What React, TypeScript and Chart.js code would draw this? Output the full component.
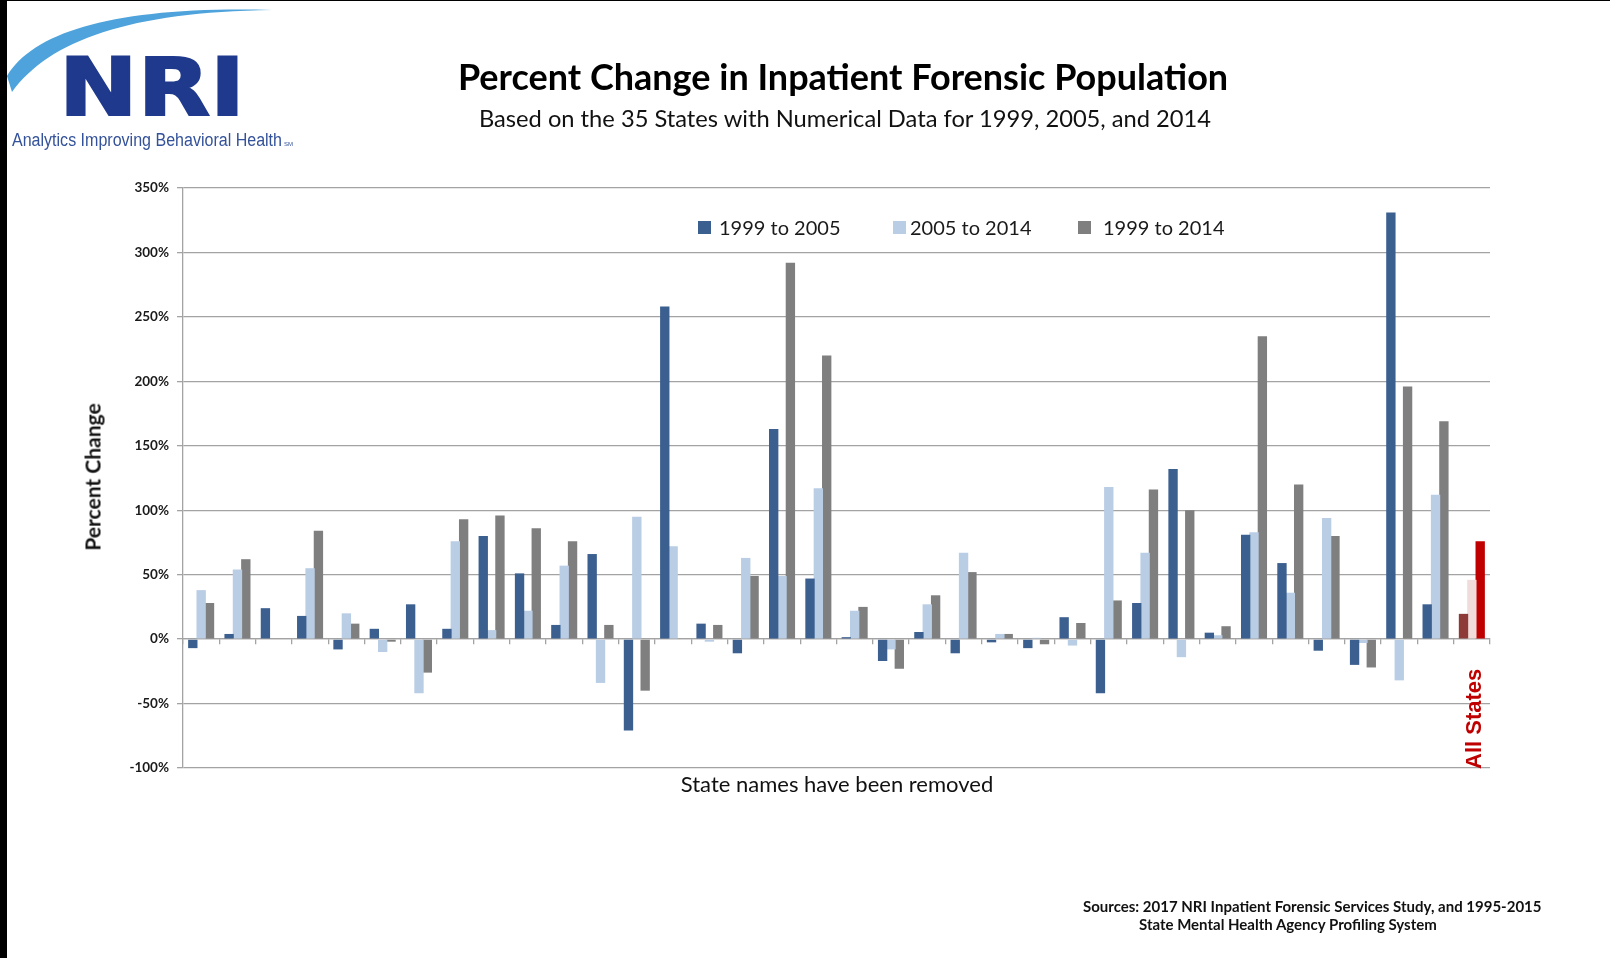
import React, { useEffect, useRef } from "react";
import { Chart, registerables } from "chart.js";

Chart.register(...registerables);

// ---- data ----
const STATE_LABELS: string[] = Array(35).fill("");
const CATEGORIES: string[] = [...STATE_LABELS, "All States"];
const SERIES_NAMES = ["1999 to 2005", "2005 to 2014", "1999 to 2014"];

const CHANGE_1999_2005 = [
  -7, 4, 24, 18, -8, 8, 27, 8, 80, 51, 11, 66, -71, 258, 12, -11, 163, 47,
  1.5, -17, 5.5, -11, -2.5, -7, 17, -42, 28, 132, 5, 81, 59, -9, -20, 331, 27,
  19.6,
];
const CHANGE_2005_2014 = [
  38, 54, 0, 55, 20, -10, -42, 76, 7, 22, 57, -34, 95, 72, -2, 63, 49, 117,
  22, -8, 27, 67, 4, 1, -5, 118, 67, -14, 3, 83, 36, 94, -3, -32, 112, 46,
];
const CHANGE_1999_2014 = [
  28, 62, 0, 84, 12, -2, -26, 93, 96, 86, 76, 11, -40, 0, 11, 49, 292, 220,
  25, -23, 34, 52, 4, -4, 12.5, 30, 116, 100, 10, 235, 120, 80, -22, 196, 169,
  76,
];
const Y_TICKS = [-100, -50, 0, 50, 100, 150, 200, 250, 300, 350];

const TITLE = "Percent Change in Inpatient Forensic Population";
const SUBTITLE =
  "Based on the 35 States with Numerical Data for 1999, 2005, and 2014";
const X_TITLE = "State names have been removed";
const Y_TITLE = "Percent Change";
const SOURCE_LINES = [
  "Sources: 2017 NRI Inpatient Forensic Services Study, and 1995-2015",
  "State Mental Health Agency Profiling System",
];

// ---- style ----
const STATE_COLORS = ["#3b5f8f", "#b9cde5", "#7f7f7f"];
const ALL_STATES_COLORS = ["#8e3a39", "#f2dcdb", "#c00000"];
const GRID = "#a3a3a3";

const W = 1610;
const H = 958;
const AREA = { left: 183, top: 188, right: 1490, bottom: 768 };

const allStatesLabel = {
  id: "allStatesLabel",
  afterDatasetsDraw(chart: any) {
    const { ctx } = chart;
    const xs = chart.scales.x;
    const ys = chart.scales.y;
    const idx = CATEGORIES.length - 1;
    const px = xs.getPixelForValue(idx) + 3;
    const py = ys.getPixelForValue(Y_TICKS[0]) + 1;
    ctx.save();
    ctx.translate(px, py);
    ctx.rotate(-Math.PI / 2);
    ctx.font = 'bold 22px "Liberation Sans", Arial, sans-serif';
    ctx.fillStyle = "#c00000";
    ctx.textAlign = "left";
    ctx.textBaseline = "middle";
    ctx.fillText(CATEGORIES[idx], 0, 0);
    ctx.restore();
  },
};

function colorsFor(k: number) {
  return CATEGORIES.map((_, i) =>
    i === CATEGORIES.length - 1 ? ALL_STATES_COLORS[k] : STATE_COLORS[k]
  );
}

export default function App() {
  const ref = useRef<HTMLCanvasElement | null>(null);

  useEffect(() => {
    document.body.style.margin = "0";
    if (!ref.current) return;
    const series = [CHANGE_1999_2005, CHANGE_2005_2014, CHANGE_1999_2014];
    const chart = new Chart(ref.current, {
      type: "bar",
      data: {
        labels: CATEGORIES,
        datasets: series.map((d, k) => ({
          label: SERIES_NAMES[k],
          data: d,
          backgroundColor: colorsFor(k),
          borderWidth: 0,
          categoryPercentage: 0.69,
          barPercentage: 1.12,
        })),
      },
      options: {
        animation: false,
        responsive: false,
        maintainAspectRatio: false,
        devicePixelRatio: 1,
        layout: {
          padding: {
            left: 0,
            top: AREA.top,
            right: W - AREA.right,
            bottom: H - AREA.bottom,
          },
        },
        plugins: {
          legend: { display: false },
          title: { display: false },
          tooltip: { enabled: false },
        },
        scales: {
          x: {
            type: "category",
            position: { y: 0 } as any,
            offset: true,
            afterFit: (s: any) => {
              s.height = 0;
            },
            ticks: { display: false },
            grid: {
              display: true,
              offset: true,
              drawOnChartArea: false,
              drawTicks: true,
              tickLength: 5,
              color: GRID,
              lineWidth: 1.3,
            },
            border: { display: true, color: GRID, width: 1.3 },
          },
          y: {
            min: Y_TICKS[0],
            max: Y_TICKS[Y_TICKS.length - 1],
            afterFit: (s: any) => {
              s.width = AREA.left;
            },
            afterBuildTicks: (s: any) => {
              s.ticks = Y_TICKS.map((v) => ({ value: v }));
            },
            ticks: {
              callback: (v: any) => v + "%",
              font: { family: "Lato", size: 13.5, weight: "bold" },
              color: "#1a1a1a",
              padding: 8,
            },
            grid: {
              color: GRID,
              lineWidth: 1.3,
              tickLength: 6,
              drawTicks: true,
            },
            border: { display: true, color: GRID, width: 1.3 },
          },
        },
      },
      plugins: [allStatesLabel],
    });
    return () => chart.destroy();
  }, []);

  const abs = (s: React.CSSProperties): React.CSSProperties => ({
    position: "absolute",
    whiteSpace: "nowrap",
    lineHeight: 1,
    ...s,
  });

  const legendItems = [
    { box: 698, text: 719 },
    { box: 893, text: 910 },
    { box: 1078, text: 1103 },
  ];

  return (
    <div
      style={{
        position: "absolute",
        left: 0,
        top: 0,
        width: W,
        height: H,
        background: "#fff",
        overflow: "hidden",
        fontFamily: "Lato, sans-serif",
      }}
    >
      <canvas
        ref={ref}
        width={W}
        height={H}
        style={{ position: "absolute", left: 0, top: 0, width: W, height: H }}
      />

      {/* logo */}
      <svg
        width={310}
        height={160}
        style={{ position: "absolute", left: 0, top: 0 }}
      >
        <path
          d="M7 76 C 35 30, 120 6, 272 10 C 130 12, 50 40, 12 92 Z"
          fill="#4ea3dc"
        />
        <text
          x={59}
          y={115}
          fontFamily="'DejaVu Sans', 'Liberation Sans', sans-serif"
          fontWeight="bold"
          fontSize={81}
          fill="#1f3a8c"
          stroke="#1f3a8c"
          strokeWidth={2}
          textLength={186}
          lengthAdjust="spacingAndGlyphs"
        >
          NRI
        </text>
        <text
          x={12}
          y={146}
          fontFamily="'Liberation Sans Narrow', 'Liberation Sans', sans-serif"
          fontSize={18}
          fill="#34529a"
          textLength={270}
          lengthAdjust="spacingAndGlyphs"
        >
          Analytics Improving Behavioral Health
        </text>
        <text
          x={284}
          y={146}
          fontFamily="'Liberation Sans', sans-serif"
          fontSize={6}
          fill="#34529a"
        >
          SM
        </text>
      </svg>

      {/* frame */}
      <div style={abs({ left: 0, top: 0, width: 7, height: H, background: "#000" })} />
      <div style={abs({ left: 0, top: 0, width: W, height: 1, background: "#000" })} />

      {/* titles */}
      <div
        style={abs({
          left: 843,
          top: 76,
          transform: "translate(-50%, -50%)",
          fontSize: 36,
          fontWeight: "bold",
          color: "#000",
        })}
      >
        {TITLE}
      </div>
      <div
        style={abs({
          left: 845,
          top: 119,
          transform: "translate(-50%, -50%)",
          fontSize: 23.7,
          color: "#111",
        })}
      >
        {SUBTITLE}
      </div>

      {/* legend */}
      {legendItems.map((it, k) => (
        <React.Fragment key={k}>
          <div
            style={abs({
              left: it.box,
              top: 221,
              width: 13,
              height: 13,
              background: STATE_COLORS[k],
            })}
          />
          <div
            style={abs({
              left: it.text,
              top: 227,
              transform: "translateY(-50%)",
              fontSize: 20,
              color: "#1a1a1a",
            })}
          >
            {SERIES_NAMES[k]}
          </div>
        </React.Fragment>
      ))}

      {/* axis titles */}
      <div
        style={abs({
          left: 92,
          top: 477,
          transform: "translate(-50%, -50%) rotate(-90deg)",
          fontSize: 21,
          fontWeight: "bold",
          color: "#111",
        })}
      >
        {Y_TITLE}
      </div>
      <div
        style={abs({
          left: 837,
          top: 784,
          transform: "translate(-50%, -50%)",
          fontSize: 22,
          color: "#111",
        })}
      >
        {X_TITLE}
      </div>

      {/* sources */}
      <div
        style={abs({
          left: 1083,
          top: 906,
          transform: "translateY(-50%)",
          fontSize: 15,
          fontWeight: "bold",
          color: "#111",
        })}
      >
        {SOURCE_LINES[0]}
      </div>
      <div
        style={abs({
          left: 1139,
          top: 924,
          transform: "translateY(-50%)",
          fontSize: 15,
          fontWeight: "bold",
          color: "#111",
        })}
      >
        {SOURCE_LINES[1]}
      </div>
    </div>
  );
}
